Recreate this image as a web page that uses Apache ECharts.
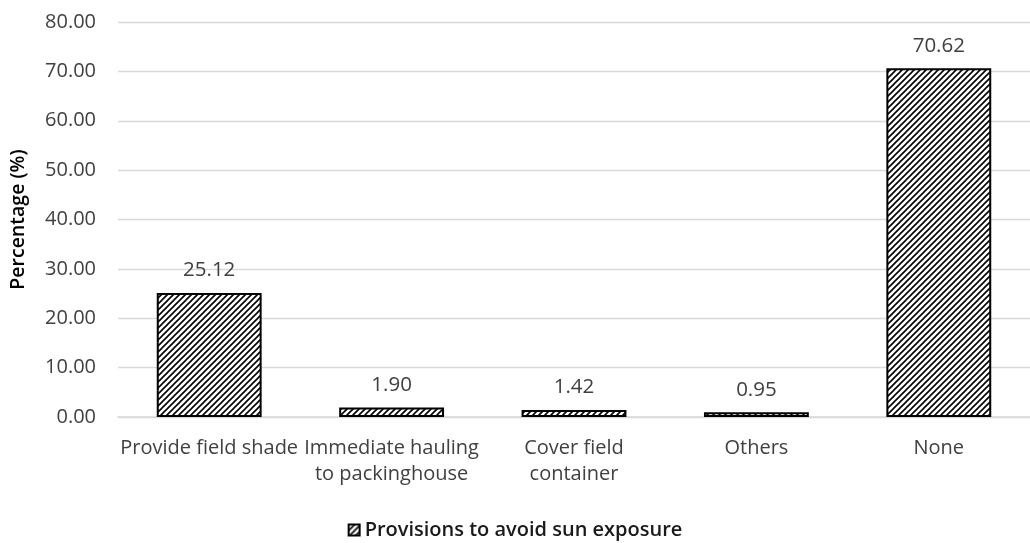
<!DOCTYPE html>
<html>
<head>
<meta charset="utf-8">
<script src="https://cdn.jsdelivr.net/npm/echarts@6/dist/echarts.min.js"></script>
<style>html,body{margin:0;padding:0;background:#fff}#c{width:1030px;height:543px}</style>
</head>
<body>
<div id="c"></div>
<script>
const categories = ['Provide field shade', 'Immediate hauling\nto packinghouse', 'Cover field\ncontainer', 'Others', 'None'];
const values = [25.12, 1.90, 1.42, 0.95, 70.62];
const seriesName = 'Provisions to avoid sun exposure';
const yTicks = { min: 0, max: 80, interval: 10 };

function makePattern() {
  const s = 6;
  const cv = document.createElement('canvas');
  cv.width = s; cv.height = s;
  const ctx = cv.getContext('2d');
  ctx.fillStyle = '#fff';
  ctx.fillRect(0, 0, s, s);
  ctx.strokeStyle = '#000';
  ctx.lineWidth = 1.6;
  ctx.beginPath();
  ctx.moveTo(-1, s + 1); ctx.lineTo(s + 1, -1);
  ctx.moveTo(-1, 1); ctx.lineTo(1, -1);
  ctx.moveTo(s - 1, s + 1); ctx.lineTo(s + 1, s - 1);
  ctx.stroke();
  return cv;
}
const pattern = { image: makePattern(), repeat: 'repeat' };
const FONT = '"Open Sans", "Noto Sans", sans-serif';

const chart = echarts.init(document.getElementById('c'), null, { renderer: 'canvas' });
chart.setOption({
  animation: false,
  grid: { left: 117, right: -6, top: 22, bottom: 126, containLabel: false },
  legend: {
    top: 515, left: 'center',
    itemWidth: 11, itemHeight: 11, itemGap: 6,
    icon: 'rect',
    textStyle: { fontFamily: FONT, fontSize: 20, fontWeight: 600, color: '#1a1a1a', padding: [0, 0, 0, 0] },
    data: [seriesName]
  },
  xAxis: {
    type: 'category',
    data: categories,
    axisLine: { lineStyle: { color: '#d9d9d9', width: 1.5 } },
    axisTick: { show: false },
    axisLabel: { color: '#404040', fontFamily: FONT, fontSize: 20, margin: 18, lineHeight: 26, interval: 0 }
  },
  yAxis: {
    type: 'value',
    min: yTicks.min, max: yTicks.max, interval: yTicks.interval,
    name: 'Percentage (%)',
    nameLocation: 'middle',
    nameGap: 90,
    nameTextStyle: { fontFamily: FONT, fontSize: 19.5, fontWeight: 600, color: '#000' },
    axisLine: { show: false },
    axisTick: { show: false },
    axisLabel: { color: '#404040', fontFamily: FONT, fontSize: 20, margin: 22, formatter: v => v.toFixed(2) },
    splitLine: { lineStyle: { color: '#d9d9d9', width: 1.3 } }
  },
  series: [{
    name: seriesName,
    type: 'bar',
    data: values,
    barWidth: '57.5%',
    itemStyle: { color: pattern, borderColor: '#000', borderWidth: 2 },
    label: {
      show: true, position: 'top', distance: 12,
      color: '#404040', fontFamily: FONT, fontSize: 20.5,
      formatter: p => p.value.toFixed(2)
    }
  }]
});
</script>
</body>
</html>
